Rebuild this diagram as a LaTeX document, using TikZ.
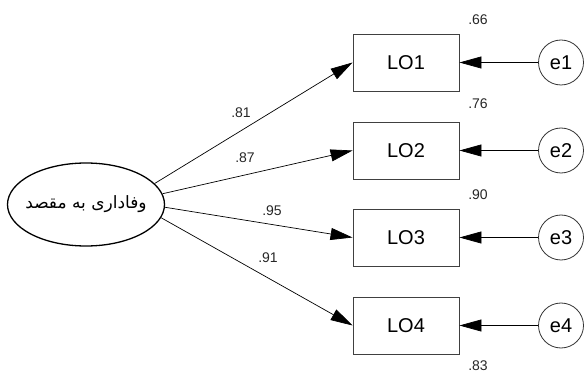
\documentclass[tikz,border=0pt]{standalone}
\usepackage{fontspec}
\setmainfont{Liberation Sans}
\newfontfamily\arabicfont[Script=Arabic]{DejaVu Sans}
\TeXXeTstate=1
\usetikzlibrary{arrows.meta,shapes.geometric}

\begin{document}
\begin{tikzpicture}[x=1pt,y=-1pt,
  indicator/.style={draw=black!75, line width=0.9pt, minimum width=106pt,
    minimum height=57pt, inner sep=0pt, font=\fontsize{20}{20}\selectfont},
  errterm/.style={circle, draw=black!80, line width=0.8pt, minimum size=45pt,
    inner sep=0pt, font=\fontsize{20}{20}\selectfont},
  latent/.style={ellipse, draw, line width=1.3pt, minimum width=157pt,
    minimum height=83pt, inner xsep=-12pt, inner ysep=0pt},
  loading/.style={-{Triangle[length=22pt,width=12pt]}, line width=0.7pt},
  coef/.style={font=\fontsize{14}{14}\selectfont, text=black!85}
]
\useasboundingbox (0,0) rectangle (584,374);

% latent factor
\node[latent] (F) at (86,204.5)
  {\fontsize{17}{17}\selectfont\arabicfont\beginR وفاداری به مقصد\endR};

% observed indicators
\node[indicator] (LO1) at (406,62.5)  {LO1};
\node[indicator] (LO2) at (406,150.5) {LO2};
\node[indicator] (LO3) at (406,237.5) {LO3};
\node[indicator] (LO4) at (406,325.5) {LO4};

% error terms
\node[errterm] (e1) at (561,62.5)  {e1};
\node[errterm] (e2) at (561,150.5) {e2};
\node[errterm] (e3) at (561,237.5) {e3};
\node[errterm] (e4) at (561,325.5) {e4};

% factor loadings
\draw[loading] (F.17)  -- (LO1.west);
\draw[loading] (F.8)   -- (LO2.west);
\draw[loading] (F.-2)  -- (LO3.west);
\draw[loading] (F.-10) -- (LO4.west);

% error paths
\foreach \i in {1,...,4}
  \draw[loading] (e\i.west) -- (LO\i.east);

% standardized loadings
\node[coef] (c1) at (241,113) {.81};
\node[coef] (c2) at (245,158) {.87};
\node[coef] (c3) at (272,211) {.95};
\node[coef] (c4) at (268,258) {.91};

% squared multiple correlations
\node[coef] (r1) at (478,20)  {.66};
\node[coef] (r2) at (478,104) {.76};
\node[coef] (r3) at (478,195) {.90};
\node[coef] (r4) at (478,366) {.83};
\end{tikzpicture}
\end{document}
